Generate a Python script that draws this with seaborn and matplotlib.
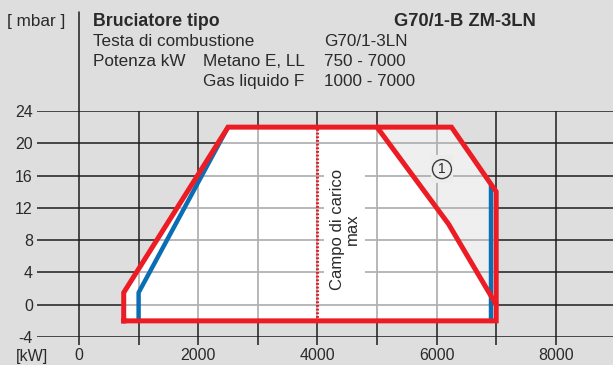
import matplotlib
matplotlib.use("Agg")
import matplotlib.pyplot as plt
import seaborn as sns
import pandas as pd
from matplotlib.patches import Polygon
from matplotlib.lines import Line2D

# Working field of the burner (output kW vs. combustion chamber pressure mbar)
outer_kw = [750, 750, 2500, 6250, 7000, 7000, 750]
outer_mbar = [-2, 1.5, 22, 22, 14, -2, -2]

# Limit line for the reduced field (natural gas), area (1) beyond it
limit_kw = [5000, 6200, 7000]
limit_mbar = [22, 10, 0]

# Liquid gas F limits (1000 - 7000 kW)
lpg_left_kw = [1000, 1000, 2500]
lpg_left_mbar = [-2, 1.5, 22]
lpg_right_kw = [6920, 6920]
lpg_right_mbar = [-2, 14.8]

# Maximum load line
max_load_kw = [4000, 4000]
max_load_mbar = [-2, 22]

x_ticks = [0, 2000, 4000, 6000, 8000]
x_minor = [1000, 3000, 5000, 7000]
y_ticks = [-4, 0, 4, 8, 12, 16, 20, 24]

RED = "#ec1c24"
BLUE = "#0a6eb4"
BG = "#dedede"
TXT = "#2a2a2a"

sns.set_theme(style="white", rc={"axes.facecolor": BG, "figure.facecolor": BG})
plt.rcParams["font.family"] = ["Liberation Sans", "DejaVu Sans"]

fig = plt.figure(figsize=(6.13, 3.65), dpi=100)
ax = fig.add_axes([37 / 613, 28 / 365, 576 / 613, 226 / 365])
ax.set_xlim(-705, 8960)
ax.set_ylim(-4, 24)
for s in ax.spines.values():
    s.set_visible(False)

# dark grid on the grey background
grid_x = sorted(x_ticks + x_minor)
for x in grid_x:
    ax.axvline(x, color="#1e1e1e", lw=1.1, zorder=1)
for y in y_ticks:
    ax.axhline(y, color="#1e1e1e", lw=1.1, zorder=1)

# filled field: white main area and light area (1)
main_pts = list(zip(outer_kw[:3], outer_mbar[:3])) + list(zip(limit_kw, limit_mbar)) + [(7000, -2)]
area1_pts = [(limit_kw[0], limit_mbar[0]), (6250, 22), (7000, 14), (limit_kw[2], limit_mbar[2]), (limit_kw[1], limit_mbar[1])]
ax.add_patch(Polygon(main_pts, closed=True, facecolor="white", edgecolor="none", zorder=2))
ax.add_patch(Polygon(area1_pts, closed=True, facecolor="#efefef", edgecolor="none", zorder=2))

# light grid inside the field
clip = Polygon(list(zip(outer_kw, outer_mbar)), closed=True, transform=ax.transData)
for x in grid_x:
    ln = ax.axvline(x, color="#b2b2b2", lw=1.3, zorder=3)
    ln.set_clip_path(clip)
for y in y_ticks:
    ln = ax.axhline(y, color="#b2b2b2", lw=1.3, zorder=3)
    ln.set_clip_path(clip)

# labels inside the field
ax.text(4460, 9.3, "Campo di carico\nmax", rotation=90, ha="center", va="center",
        multialignment="center", fontsize=12, color=TXT, zorder=4, linespacing=0.95,
        bbox=dict(boxstyle="square,pad=0.35", facecolor="white", edgecolor="none"))
ax.text(6090, 16.8, "1", ha="center", va="center", fontsize=11, color="#efefef", zorder=4,
        bbox=dict(boxstyle="square,pad=0.45", facecolor="#ececec", edgecolor="none"))
ax.text(6090, 16.8, "1", ha="center", va="center", fontsize=10, color=TXT, zorder=5,
        bbox=dict(boxstyle="circle,pad=0.18", facecolor="none", edgecolor="#3a3a3a", lw=1.0))

# liquid gas limits (blue), under the red envelope
for kx, my in [(lpg_left_kw, lpg_left_mbar), (lpg_right_kw, lpg_right_mbar)]:
    d = pd.DataFrame({"kW": kx, "mbar": my})
    sns.lineplot(data=d, x="kW", y="mbar", sort=False, estimator=None, color=BLUE,
                 lw=3.2, ax=ax, zorder=6)

# red envelope and limit line
d_out = pd.DataFrame({"kW": outer_kw, "mbar": outer_mbar})
sns.lineplot(data=d_out, x="kW", y="mbar", sort=False, estimator=None, color=RED,
             lw=3.6, ax=ax, zorder=7)
d_lim = pd.DataFrame({"kW": limit_kw, "mbar": limit_mbar})
sns.lineplot(data=d_lim, x="kW", y="mbar", sort=False, estimator=None, color=RED,
             lw=3.6, ax=ax, zorder=7)
for ln in ax.lines[-2:]:
    ln.set_solid_joinstyle("miter")
    ln.set_solid_capstyle("projecting")

d_max = pd.DataFrame({"kW": max_load_kw, "mbar": max_load_mbar})
sns.lineplot(data=d_max, x="kW", y="mbar", sort=False, estimator=None, color=RED,
             lw=2.2, ax=ax, zorder=6, linestyle=(0, (0.6, 0.6)))

ax.set_xlabel("")
ax.set_ylabel("")
ax.set_xticks(x_ticks)
ax.set_xticks(x_minor, minor=True)
ax.set_xticklabels([str(v) for v in x_ticks], fontsize=11.5, color=TXT)
ax.set_yticks(y_ticks)
ax.set_yticklabels([str(v) for v in y_ticks], fontsize=11.5, color=TXT)
ax.tick_params(axis="x", which="both", length=6, width=1.1, color="#1e1e1e", pad=2, bottom=True)
ax.tick_params(axis="y", length=0, pad=3, left=True)

# header block
fig.text(7 / 613, 1 - 26 / 365, "[ mbar ]", fontsize=12.3, color=TXT, va="baseline")
fig.text(16 / 613, 1 - 361 / 365, "[kW]", fontsize=11.5, color=TXT, va="baseline")
fig.add_artist(Line2D([79 / 613, 79 / 613], [1 - 12 / 365, 1 - 111 / 365], color="#1e1e1e", lw=1.1))
hdr = [
    (93, 46, "Testa di combustione"),
    (324, 46, "G70/1-3LN"),
    (93, 66, "Potenza kW"),
    (203, 66, "Metano E, LL"),
    (324, 66, "750 - 7000"),
    (203, 86, "Gas liquido F"),
    (324, 86, "1000 - 7000"),
]
for px, py, s in hdr:
    fig.text(px / 613, 1 - py / 365, s, fontsize=12.3, color=TXT, va="baseline")
fig.text(93 / 613, 1 - 26 / 365, "Bruciatore tipo", fontsize=12.8, color=TXT,
         fontweight="bold", va="baseline")
fig.text(536 / 613, 1 - 26 / 365, "G70/1-B ZM-3LN", fontsize=13.2, color=TXT,
         fontweight="bold", va="baseline", ha="right")

fig.savefig("out.png", dpi=100, facecolor=BG)
